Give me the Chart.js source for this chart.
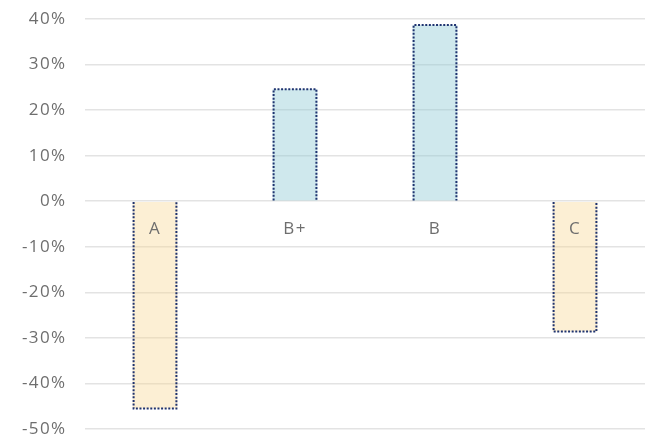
<!DOCTYPE html>
<html>
<head>
<meta charset="utf-8">
<script src="https://cdn.jsdelivr.net/npm/chart.js@4.4.1/dist/chart.umd.min.js"></script>
<style>
html,body{margin:0;padding:0;background:#fff;}
#wrap{width:649px;height:438px;}
</style>
</head>
<body>
<div id="wrap"><canvas id="chart" width="649" height="438"></canvas></div>
<script>
const grades=["A","B+","B","C"];
const changes=[-45.5,24.6,38.7,-28.6];
const yTicks=[-50,-40,-30,-20,-10,0,10,20,30,40];

const fillNeg="rgba(247,215,148,0.4)";
const fillPos="rgba(140,200,212,0.42)";
const dotColor="#1f3370";
const txtColor="#6e6e6e";

Chart.defaults.font.family="'Open Sans'";
Chart.defaults.font.size=17;
Chart.defaults.color=txtColor;

// a little wider lettering, closer to the original face
const spacing={
id:"spacing",
beforeUpdate(chart){chart.ctx.letterSpacing="1.4px";},
beforeDraw(chart){chart.ctx.letterSpacing="1.4px";}
};

// dotted outline on the three free sides of each bar
const dottedBorder={
id:"dottedBorder",
afterDatasetsDraw(chart){
const ctx=chart.ctx;
const meta=chart.getDatasetMeta(0);
ctx.save();
ctx.strokeStyle=dotColor;
ctx.lineWidth=2;
ctx.setLineDash([2,1.6]);
meta.data.forEach(bar=>{
const p=bar.getProps(["x","y","base","width"],true);
const l=p.x-p.width/2+1, r=p.x+p.width/2-1;
ctx.beginPath();
ctx.moveTo(l,p.base);
ctx.lineTo(l,p.y);
ctx.lineTo(r,p.y);
ctx.lineTo(r,p.base);
ctx.stroke();
});
ctx.restore();
}
};

new Chart(document.getElementById("chart"),{
type:"bar",
data:{
labels:grades,
datasets:[{
data:changes,
backgroundColor:changes.map(v=>v<0?fillNeg:fillPos),
borderWidth:0,
barPercentage:0.8,
categoryPercentage:0.4
}]
},
options:{
responsive:false,
animation:false,
layout:{padding:{top:0,right:4,bottom:0,left:0}},
plugins:{legend:{display:false},tooltip:{enabled:false}},
scales:{
x:{
position:{y:0},
afterFit:axis=>{axis.height=0;},
grid:{display:false},
border:{display:false},
ticks:{padding:10,z:1}
},
y:{
min:-50,max:40,
afterBuildTicks:axis=>{axis.ticks=yTicks.map(v=>({value:v}));},
afterFit:axis=>{axis.paddingTop=19;axis.paddingBottom=9;axis.width=85;},
grid:{color:"#e3e3e3",lineWidth:1.5,drawTicks:false},
border:{display:false},
ticks:{padding:18.5,callback:v=>v+"%"}
}
}
},
plugins:[spacing,dottedBorder]
});
</script>
</body>
</html>
